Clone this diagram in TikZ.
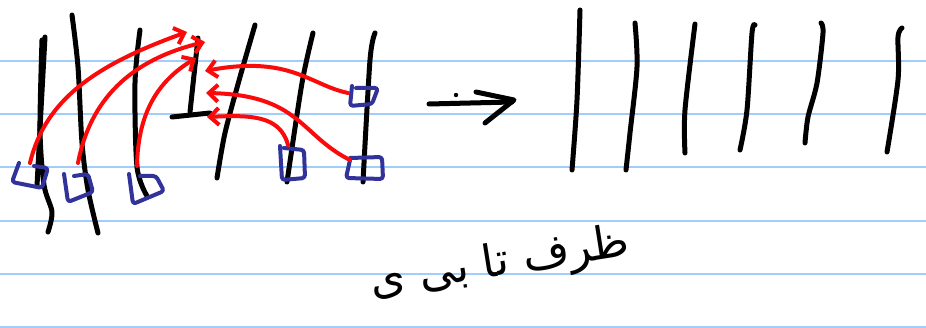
\documentclass[tikz,border=0pt]{standalone}
\usepackage{fontspec}
\usetikzlibrary{arrows.meta}
\newfontfamily\arabicfont[Script=Arabic]{DejaVu Sans}
\TeXXeTstate=1
\definecolor{rulecol}{RGB}{160,205,250}
\definecolor{inkred}{RGB}{250,10,10}
\definecolor{inkblue}{RGB}{50,50,155}
\tikzset{
	pen/.style = {line width=5pt, line cap=round, line join=round},
	redpen/.style = {line width=4pt, line cap=round, line join=round, inkred,
		-{Straight Barb[length=9pt,width=17pt,line width=4pt]}},
	bluepen/.style = {line width=4pt, line cap=round, line join=round, inkblue, rounded corners=3pt},
	ruled/.style = {line width=2pt, rulecol}
}

\begin{document}
\begin{tikzpicture}[x=1pt,y=-1pt]
%
	\useasboundingbox[fill=white] (0,0) rectangle (926,328);
	\foreach \y in {61,114,167,221,274,327}
		\draw[ruled] (0,\y) -- (926,\y);
%
	% left group, before
	\draw[pen] plot[smooth] coordinates {(45,37) (41,110) (37,186)};
	\draw[pen] plot[smooth] coordinates {(42,40) (40,130) (44,185) (52,212) (48,232)};
	\draw[pen] plot[smooth] coordinates {(72,15) (78,67) (82,143) (88,190) (98,233)};
	\draw[pen] plot[smooth] coordinates {(140,30) (135,83) (137,167) (147,196)};
	\draw[pen] (198,38) -- (190,112);
	\draw[pen] (172,117) -- (210,113);
	\draw[pen] plot[smooth] coordinates {(255,25) (240,77) (225,133) (217,178)};
	\draw[pen] plot[smooth] coordinates {(313,33) (302,83) (287,182)};
	\draw[pen] plot[smooth] coordinates {(375,33) (370,60) (363,182)};
%
	\draw[bluepen] (19,163) -- (12,182) -- (42,188) -- (48,168) -- (34,166);
	\draw[bluepen] (64,174) -- (68,202) -- (93,192) -- (88,174) -- (74,176);
	\draw[bluepen] (129,174) -- (133,204) -- (164,191) -- (156,176) -- (140,176);
	\draw[bluepen] (280,146) -- (282,180) -- (305,178) -- (304,150) -- (284,148);
	\draw[bluepen] (350,160) -- (346,178) -- (383,179) -- (382,157) -- (350,158);
	\draw[bluepen] (352,86) -- (350,106) -- (372,104) -- (378,88) -- (356,88);
%
	\draw[redpen] (30,163) .. controls (45,100) and (95,65) .. (187,32);
	\draw[redpen] (78,163) .. controls (90,100) and (130,60) .. (205,42);
	\draw[redpen] (137,166) .. controls (138,110) and (160,80) .. (196,58);
	\draw[redpen] (348,93) .. controls (310,85) and (290,55) .. (205,71);
	\draw[redpen] (350,160) .. controls (300,135) and (300,95) .. (206,93);
	\draw[redpen] (288,145) .. controls (280,115) and (250,115) .. (207,117);
%
	% arrow between
	\draw[pen] (429,104) -- (512,102);
	\draw[pen] (476,92) -- (514,100) -- (485,123);
	\fill (456,95) circle (2.2pt);
%
	% right group, after
	\draw[pen] plot[smooth] coordinates {(580,10) (577,100) (572,170)};
	\draw[pen] plot[smooth] coordinates {(635,23) (637,67) (630,133) (626,170)};
	\draw[pen] plot[smooth] coordinates {(695,24) (685,110) (685,153)};
	\draw[pen] plot[smooth] coordinates {(755,25) (752,33) (747,110) (740,150)};
	\draw[pen] plot[smooth] coordinates {(821,23) (823,33) (817,83) (808,117) (805,143)};
	\draw[pen] plot[smooth] coordinates {(902,28) (898,37) (898,80) (887,152)};
%
	\node[rotate=9, inner sep=0pt] (caption) at (500,264)
		{\arabicfont\fontsize{45}{50}\selectfont\beginR ظرف تا بی ی\endR};
%
\end{tikzpicture}
\end{document}
